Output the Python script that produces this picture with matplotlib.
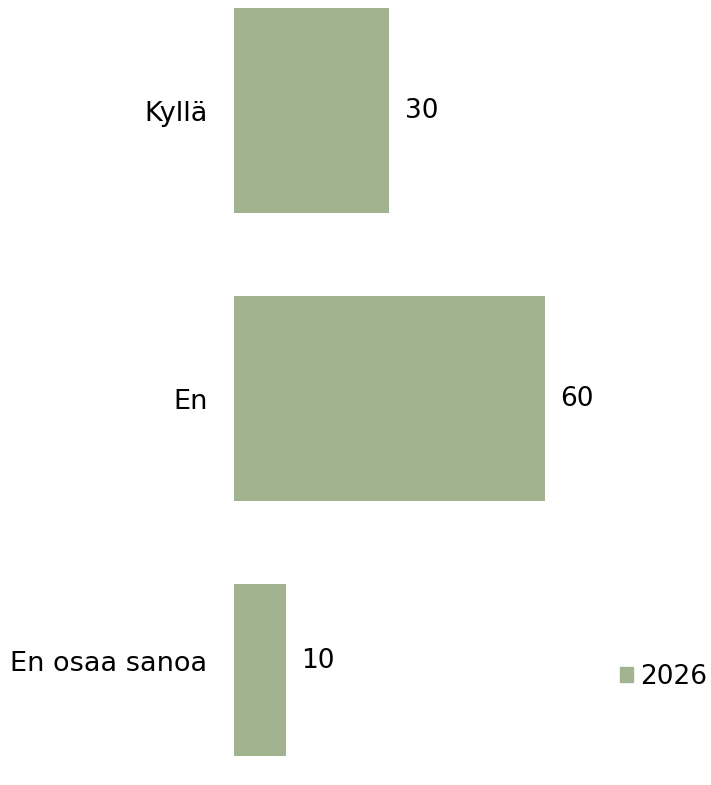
import matplotlib.pyplot as plt
from matplotlib.patches import Patch

# data
categories = ["Kyllä", "En", "En osaa sanoa"]
values = [30, 60, 10]
series_name = "2026"
bar_color = "#A1B48F"

fig = plt.figure(figsize=(7.11, 7.85), dpi=100)
ax = fig.add_axes([234 / 711, 29 / 785, 366 / 711, 756 / 785])

ypos = list(range(len(categories)))
ax.barh(ypos, values, height=0.71, color=bar_color)

ax.set_xlim(0, 366 / 5.18)
ax.set_ylim(2.241, -0.384)

# last bar is cut off by the axes, its label sits in the visible part
label_y = [0, 1, 1.91]
ax.set_yticks(label_y)
ax.set_yticklabels(categories, fontsize=19.5)
ax.tick_params(axis="y", length=0, pad=19)
ax.set_xticks([])
for s in ax.spines.values():
    s.set_visible(False)

for v, y in zip(values, label_y):
    ax.annotate(str(v), xy=(v, y), xytext=(11, 0), textcoords="offset points",
                ha="left", va="center", fontsize=19)

fig.legend(handles=[Patch(color=bar_color, label=series_name)],
           loc="center left", bbox_to_anchor=(620 / 711, 1 - 677 / 785),
           frameon=False, fontsize=19, handlelength=0.5, handleheight=0.5,
           handletextpad=0.27, borderpad=0, borderaxespad=0)

plt.savefig("out.png", dpi=100)
